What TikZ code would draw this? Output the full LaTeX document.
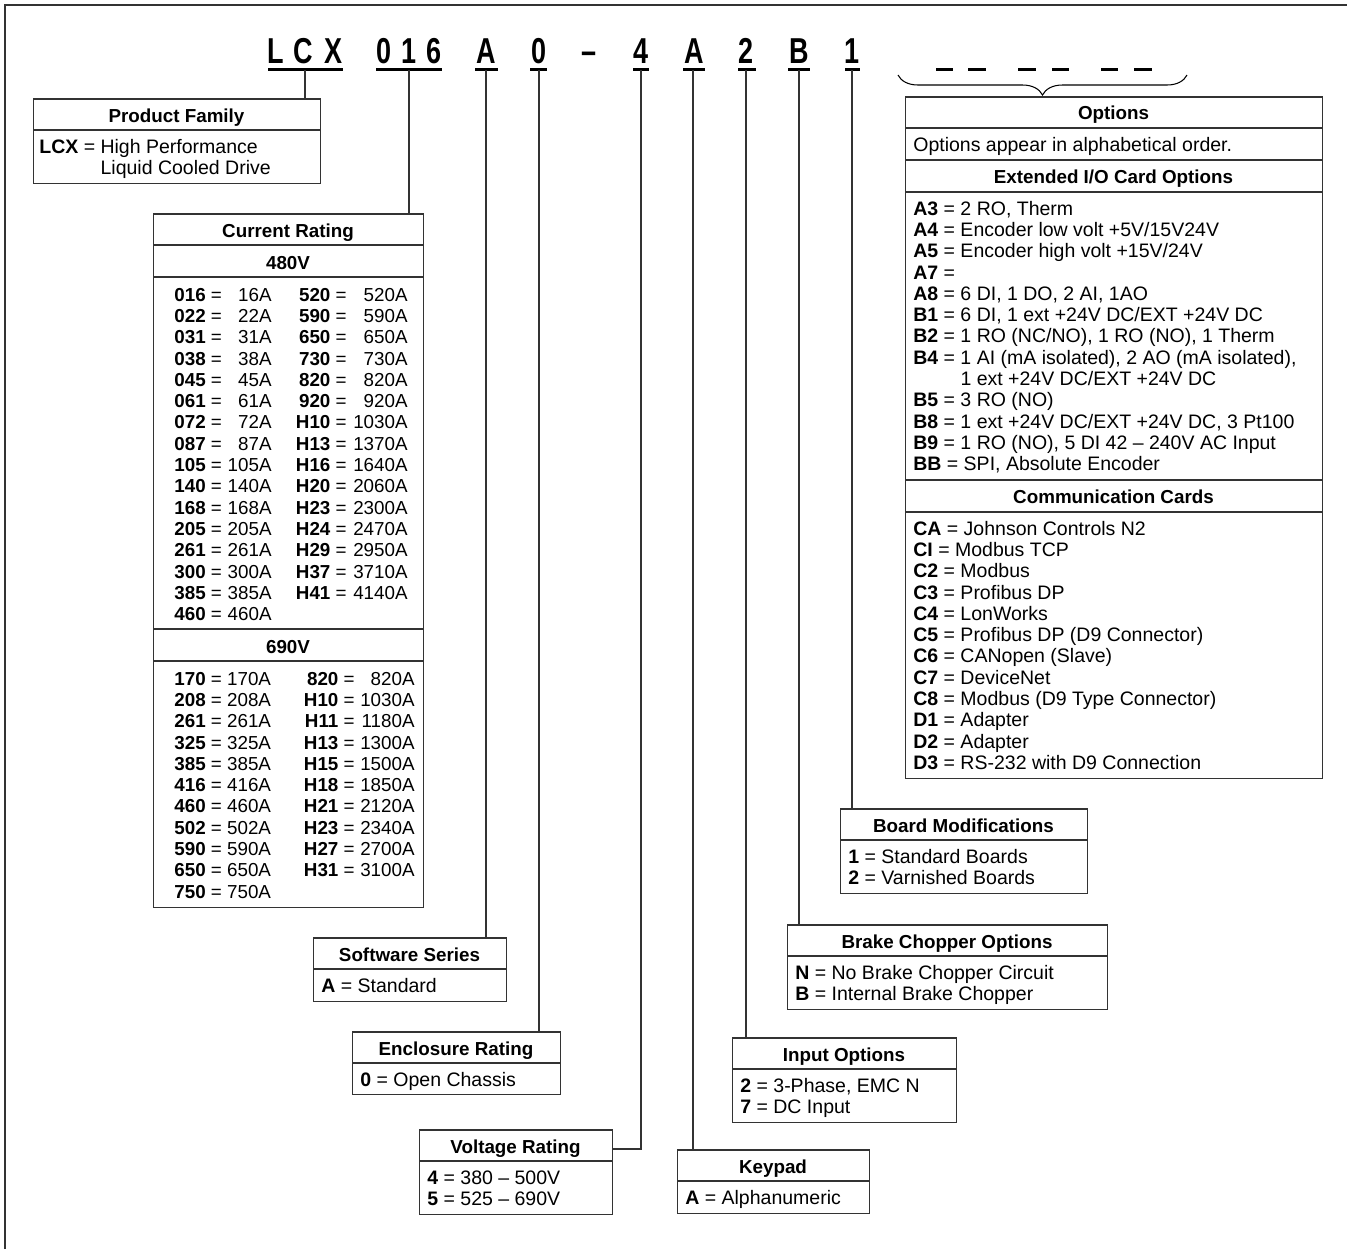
\documentclass[tikz,border=0pt]{standalone}
\usepackage{fontspec}
\setmainfont{Liberation Sans}
\newfontfamily\codefont[FakeStretch=0.75]{Liberation Sans}
\usetikzlibrary{decorations.pathreplacing}

\begin{document}
\begin{tikzpicture}[x=0.02cm, y=-0.02cm,
    every node/.style={font=\fontsize{11.1}{12.1}\selectfont, inner sep=0pt},
    panel/.style={rectangle, draw=black!80, line width=0.85pt, anchor=north west, inner sep=0pt},
    head/.style={font=\fontsize{10.7}{12.1}\selectfont\bfseries, anchor=base},
    entry/.style={anchor=base west},
    value/.style={anchor=base east},
    cell/.style={font=\fontsize{10.7}{12.1}\selectfont},
    rule/.style={draw=black!80, line width=0.85pt},
    wire/.style={draw=black!80, line width=0.7pt},
    uline/.style={line width=1.7pt},
    code/.style={font=\codefont\bfseries\fontsize{20.5}{24}\selectfont, anchor=base}
]
\useasboundingbox (0,0) rectangle (1347,1249);
\draw[black!80, line width=1.1pt] (5,1249) -- (5,5) -- (1347,5);

% catalog number
\foreach \ch/\x [count=\i] in {L/276, C/303.5, X/334, 0/384.5, 1/409, 6/434.5, A/486.5,
    0/539, \textendash/589.5, 4/641, A/694, 2/746.5, B/799, 1/852}
  \node[code] (ch\i) at (\x,63) {\ch};
\draw[uline] (268,69) -- (343,69);
\draw[uline] (376,69) -- (442,69);
\draw[uline] (475,69) -- (498,69);
\draw[uline] (530,69) -- (547,69);
\draw[uline] (633,69) -- (649,69);
\draw[uline] (683,69) -- (705,69);
\draw[uline] (738,69) -- (756,69);
\draw[uline] (788,69) -- (810,69);
\draw[uline] (845,69) -- (860,69);
\foreach \a/\b in {936/953, 968/986, 1018/1036, 1052/1069, 1101/1118, 1134/1152}
  \draw[uline] (\a,69) -- (\b,69);
\draw[decorate, decoration={brace, amplitude=0.4cm}, line width=0.6pt]
    (1187,75) -- (898,75);

\coordinate (uLCX) at (305,70);
\coordinate (u016) at (409,70);
\coordinate (uA) at (486,70);
\coordinate (u0) at (539,70);
\coordinate (u4) at (641,70);
\coordinate (uKey) at (693,70);
\coordinate (u2) at (746,70);
\coordinate (uB) at (799,70);
\coordinate (u1) at (852,70);

% product family
\node[panel, minimum width=5.74cm, minimum height=1.70cm] (family) at (33,98) {};
\draw[rule] (33,130) -- (320,130);
\node[head] (familyT) at (176.5,122) {Product Family};
\node[entry] (family1) at (39,153) {\textbf{LCX} = High Performance};
\node[entry] (family2) at (39,174.4) {\phantom{\textbf{LCX} = }Liquid Cooled Drive};

% current rating
\node[panel, minimum width=5.40cm, minimum height=13.88cm] (rating) at (153,213) {};
\draw[rule] (153,245) -- (423,245);
\draw[rule] (153,277) -- (423,277);
\draw[rule] (153,629) -- (423,629);
\draw[rule] (153,661) -- (423,661);
\node[head] (ratingT) at (288,237) {Current Rating};
\node[head] (r480) at (288,269) {480V};
\node[head] (r690) at (288,653) {690V};
\foreach \c/\v [count=\k from 0] in {016/16A, 022/22A, 031/31A, 038/38A, 045/45A, 061/61A,
    072/72A, 087/87A, 105/105A, 140/140A, 168/168A, 205/205A, 261/261A, 300/300A,
    385/385A, 460/460A} {
  \node[entry, cell] (ra\k) at (174,301+21.33*\k) {\textbf{\c} =};
  \node[value, cell] (rav\k) at (272,301+21.33*\k) {\v};
}
\foreach \c/\v [count=\k from 0] in {520/520A, 590/590A, 650/650A, 730/730A, 820/820A,
    920/920A, H10/1030A, H13/1370A, H16/1640A, H20/2060A, H23/2300A, H24/2470A,
    H29/2950A, H37/3710A, H41/4140A} {
  \node[value, cell] (rb\k) at (347,301+21.33*\k) {\textbf{\c} =};
  \node[value, cell] (rbv\k) at (408,301+21.33*\k) {\v};
}
\foreach \c [count=\k from 0] in {170, 208, 261, 325, 385, 416, 460, 502, 590, 650, 750} {
  \node[entry, cell] (rc\k) at (174,685+21.33*\k) {\textbf{\c} = \c A};
}
\foreach \c/\v [count=\k from 0] in {820/820A, H10/1030A, H11/1180A, H13/1300A, H15/1500A,
    H18/1850A, H21/2120A, H23/2340A, H27/2700A, H31/3100A} {
  \node[value, cell] (rd\k) at (355,685+21.33*\k) {\textbf{\c} =};
  \node[value, cell] (rdv\k) at (415,685+21.33*\k) {\v};
}

% software series
\node[panel, minimum width=3.86cm, minimum height=1.28cm] (software) at (313,937) {};
\draw[rule] (313,969) -- (506,969);
\node[head] (softwareT) at (409.5,961) {Software Series};
\node[entry] (software1) at (321,992) {\textbf{A} = Standard};

% enclosure rating
\node[panel, minimum width=4.16cm, minimum height=1.26cm] (enclosure) at (352,1031) {};
\draw[rule] (352,1063) -- (560,1063);
\node[head] (enclosureT) at (456,1055) {Enclosure Rating};
\node[entry] (enclosure1) at (360,1086) {\textbf{0} = Open Chassis};

% voltage rating
\node[panel, minimum width=3.86cm, minimum height=1.70cm] (voltage) at (419,1129) {};
\draw[rule] (419,1161) -- (612,1161);
\node[head] (voltageT) at (515.5,1153) {Voltage Rating};
\node[entry] (voltage1) at (427,1184) {\textbf{4} = 380 -- 500V};
\node[entry] (voltage2) at (427,1205) {\textbf{5} = 525 -- 690V};

% keypad
\node[panel, minimum width=3.84cm, minimum height=1.28cm] (keypad) at (677,1149) {};
\draw[rule] (677,1181) -- (869,1181);
\node[head] (keypadT) at (773,1173) {Keypad};
\node[entry] (keypad1) at (685,1204) {\textbf{A} = Alphanumeric};

% input options
\node[panel, minimum width=4.48cm, minimum height=1.70cm] (input) at (732,1037) {};
\draw[rule] (732,1069) -- (956,1069);
\node[head] (inputT) at (844,1061) {Input Options};
\node[entry] (input1) at (740,1092) {\textbf{2} = 3-Phase, EMC N};
\node[entry] (input2) at (740,1113) {\textbf{7} = DC Input};

% brake chopper
\node[panel, minimum width=6.40cm, minimum height=1.70cm] (brake) at (787,924) {};
\draw[rule] (787,956) -- (1107,956);
\node[head] (brakeT) at (947,948) {Brake Chopper Options};
\node[entry] (brake1) at (795,979) {\textbf{N} = No Brake Chopper Circuit};
\node[entry] (brake2) at (795,1000) {\textbf{B} = Internal Brake Chopper};

% board modifications
\node[panel, minimum width=4.94cm, minimum height=1.70cm] (board) at (840,808) {};
\draw[rule] (840,840) -- (1087,840);
\node[head] (boardT) at (963.5,832) {Board Modifications};
\node[entry] (board1) at (848,863) {\textbf{1} = Standard Boards};
\node[entry] (board2) at (848,884) {\textbf{2} = Varnished Boards};

% options
\node[panel, minimum width=8.34cm, minimum height=13.64cm] (options) at (905,96) {};
\draw[rule] (905,128) -- (1322,128);
\draw[rule] (905,160) -- (1322,160);
\draw[rule] (905,192) -- (1322,192);
\draw[rule] (905,480) -- (1322,480);
\draw[rule] (905,512) -- (1322,512);
\node[head] (optionsT) at (1113.5,119) {Options};
\node[entry] (optionsNote) at (913,151) {Options appear in alphabetical order.};
\node[head] (extT) at (1113.5,183) {Extended I/O Card Options};
\foreach \c/\t [count=\k from 0] in {A3/{2 RO, Therm}, A4/{Encoder low volt +5V/15V24V},
    A5/{Encoder high volt +15V/24V}, A7/{}, A8/{6 DI, 1 DO, 2 AI, 1AO},
    B1/{6 DI, 1 ext +24V DC/EXT +24V DC}, B2/{1 RO (NC/NO), 1 RO (NO), 1 Therm},
    B4/{1 AI (mA isolated), 2 AO (mA isolated),}}
  \node[entry] (xo\k) at (913,215+21.33*\k) {\textbf{\c} = \t};
\node[entry] (xo8) at (913,215+21.33*8) {\phantom{\textbf{B4} = }1 ext +24V DC/EXT +24V DC};
\foreach \c/\t [count=\k from 9] in {B5/{3 RO (NO)}, B8/{1 ext +24V DC/EXT +24V DC, 3 Pt100},
    B9/{1 RO (NO), 5 DI 42 -- 240V AC Input}, BB/{SPI, Absolute Encoder}}
  \node[entry] (xo\k) at (913,215+21.33*\k) {\textbf{\c} = \t};
\node[head] (comT) at (1113.5,503) {Communication Cards};
\foreach \c/\t [count=\k from 0] in {CA/{Johnson Controls N2}, CI/{Modbus TCP}, C2/Modbus,
    C3/{Profibus DP}, C4/LonWorks, C5/{Profibus DP (D9 Connector)}, C6/{CANopen (Slave)},
    C7/DeviceNet, C8/{Modbus (D9 Type Connector)}, D1/Adapter, D2/Adapter,
    D3/{RS-232 with D9 Connection}}
  \node[entry] (cc\k) at (913,535+21.33*\k) {\textbf{\c} = \t};

% connectors
\draw[wire] (uLCX) -- (family.north -| uLCX);
\draw[wire] (u016) -- (rating.north -| u016);
\draw[wire] (uA) -- (software.north -| uA);
\draw[wire] (u0) -- (enclosure.north -| u0);
\draw[wire] (u4) |- ([yshift=-0.4cm]voltage.north east);
\draw[wire] (uKey) -- (keypad.north -| uKey);
\draw[wire] (u2) -- (input.north -| u2);
\draw[wire] (uB) -- (brake.north -| uB);
\draw[wire] (u1) -- (board.north -| u1);
\end{tikzpicture}
\end{document}
